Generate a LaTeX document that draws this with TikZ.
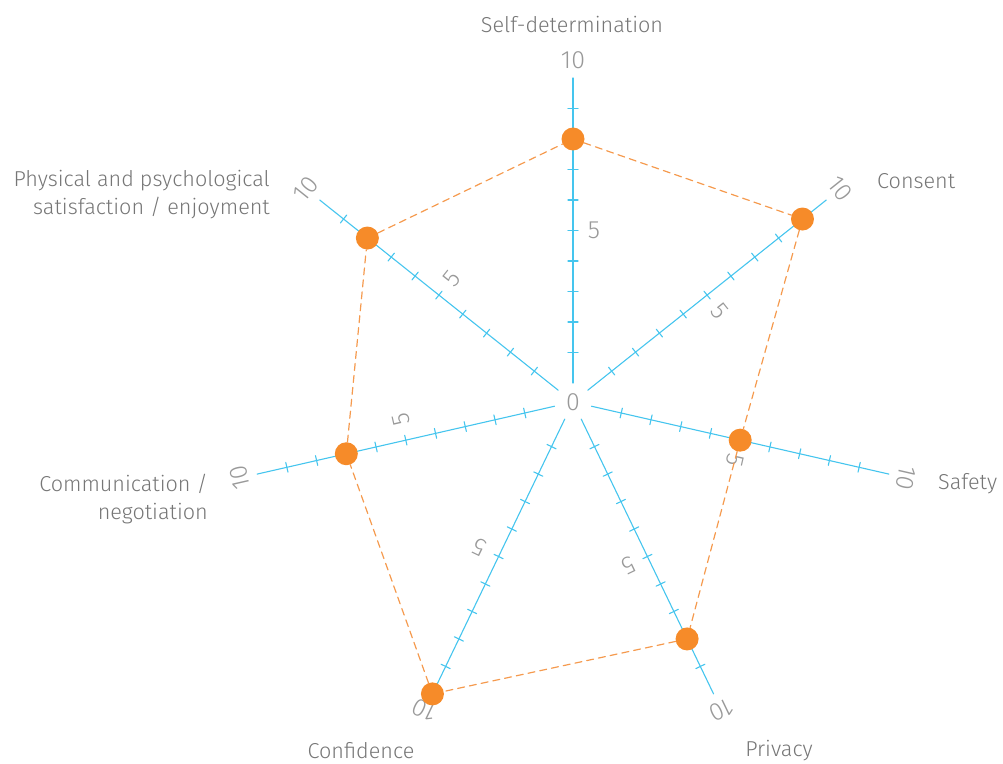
\documentclass[tikz,border=0pt]{standalone}
\usepackage{fontspec}
\setmainfont{Fira Sans}[UprightFont={* Light}]
\definecolor{axisblue}{HTML}{45C5EE}
\definecolor{dotorange}{HTML}{F68B29}
\definecolor{linkorange}{HTML}{F59A4E}
\definecolor{namegray}{HTML}{767676}
\definecolor{numgray}{HTML}{999999}

\begin{document}
\begin{tikzpicture}[x=1pt, y=1pt, line cap=round, line join=round,
	axisline/.style={axisblue, line width=1.1pt},
	numlabel/.style={numgray, font=\fontsize{25}{28}\selectfont, inner sep=0pt},
	axisname/.style={namegray, font=\fontsize{21.6}{28}\selectfont, inner sep=0pt},
	valdot/.style={circle, fill=dotorange, inner sep=0pt, minimum size=23pt},
	linkline/.style={linkorange, line width=1.2pt, dash pattern=on 7pt off 5pt}]
	\useasboundingbox (-573,-361) rectangle (430,402);
	% axes, ticks and scale labels
	\node[numlabel] (zero) at (0,0) {0};
	\foreach \val [count=\i from 0] in {8,9,5,8,10,7,8} {
		\pgfmathsetmacro\ang{90-\i*360/7}
		\coordinate (in\i) at (\ang:19);
		\coordinate (out\i) at (\ang:324);
		\draw[axisline] (in\i) -- (out\i);
		\foreach \k in {1,...,9}
		\draw[axisline] ([shift={(\ang+90:5)}]\ang:19+30.5*\k) -- ([shift={(\ang-90:5)}]\ang:19+30.5*\k);
		\node[numlabel, rotate=\ang-90] (five\i) at ([shift={(\ang-90:21)}]\ang:171.5) {5};
		\node[numlabel, rotate=\ang-90] (ten\i) at (\ang:342) {10};
		\node[valdot] (v\i) at (\ang:19+30.5*\val) {};
	}
	\draw[linkline] (v0) -- (v1) -- (v2) -- (v3) -- (v4) -- (v5) -- (v6) -- (v0);
	% axis names
	\node[axisname] (selfdet) at (-1,378) {Self-determination};
	\node[axisname, anchor=west] (consent) at (304,221) {Consent};
	\node[axisname, anchor=west] (safety) at (365,-82) {Safety};
	\node[axisname] (privacy) at (206,-349) {Privacy};
	\node[axisname] (confidence) at (-212,-349) {Confidence};
	\node[axisname, anchor=east, align=right] (communication) at (-365,-97) {Communication /\\negotiation};
	\node[axisname, anchor=east, align=right] (enjoyment) at (-303,207) {Physical and psychological\\satisfaction / enjoyment};
\end{tikzpicture}
\end{document}
